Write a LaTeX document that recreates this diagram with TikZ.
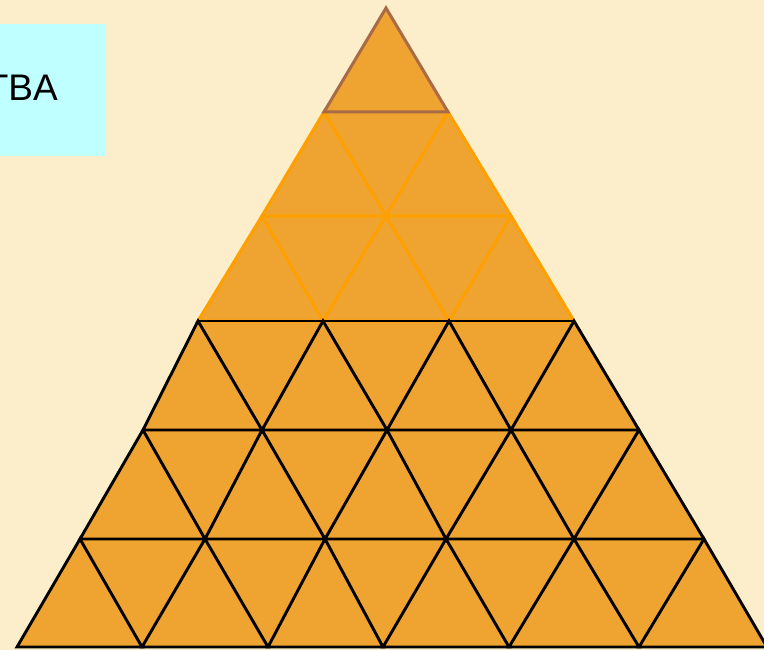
\documentclass[tikz,border=0pt]{standalone}
\usepackage{fontspec}
\setmainfont{Liberation Sans}
\definecolor{bgc}{HTML}{FCEECB}
\definecolor{cyanbox}{HTML}{BFFFFF}
\definecolor{tri}{HTML}{EFA330}
\definecolor{brownln}{HTML}{A86B46}
\definecolor{orangeln}{HTML}{FFA000}
\tikzset{
  triblack/.style={draw=black,line width=2.9pt,line join=miter},
  triorange/.style={draw=orangeln,line width=3.1pt,line join=miter},
  tribrown/.style={draw=brownln,line width=3pt,line join=miter},
}
\begin{document}
\begin{tikzpicture}[x=1pt,y=-1pt]
\useasboundingbox (0,0) rectangle (764,650);
\fill[bgc] (0,0) rectangle (764,650);
\fill[cyanbox] (0,24) rectangle (105,156);
\node[anchor=east,font=\fontsize{37}{40}\selectfont,inner sep=0pt] (tba) at (58,88) {TBA};
% row vertices
\def\ya{8}\def\yb{112}\def\yc{216}\def\yd{321}\def\ye{430}\def\yf{539}\def\yg{647}
\coordinate (A0) at (386,\ya);
\coordinate (B0) at (324,\yb); \coordinate (B1) at (448,\yb);
\coordinate (C0) at (262,\yc); \coordinate (C1) at (386,\yc); \coordinate (C2) at (511,\yc);
\coordinate (D0) at (198,\yd); \coordinate (D1) at (323,\yd); \coordinate (D2) at (449,\yd); \coordinate (D3) at (574,\yd);
\coordinate (E0) at (143,\ye); \coordinate (E1) at (262,\ye); \coordinate (E2) at (387,\ye); \coordinate (E3) at (511,\ye); \coordinate (E4) at (639,\ye);
\coordinate (F0) at (80,\yf); \coordinate (F1) at (205,\yf); \coordinate (F2) at (325,\yf); \coordinate (F3) at (446,\yf); \coordinate (F4) at (574,\yf); \coordinate (F5) at (704,\yf);
\coordinate (G0) at (17,\yg); \coordinate (G1) at (142,\yg); \coordinate (G2) at (268,\yg); \coordinate (G3) at (383,\yg); \coordinate (G4) at (509,\yg); \coordinate (G5) at (639,\yg); \coordinate (G6) at (767,\yg);
% fill
\fill[tri] (A0) -- (B0) -- (C0) -- (D0) -- (E0) -- (F0) -- (G0) -- (G6) -- (F5) -- (E4) -- (D3) -- (C2) -- (B1) -- cycle;
% orange rows 2-3
\draw[triorange] (B0) -- (C0) -- (C1) -- cycle;
\draw[triorange] (B1) -- (C1) -- (C2) -- cycle;
\draw[triorange] (C0) -- (D0) -- (D1) -- cycle;
\draw[triorange] (C1) -- (D1) -- (D2) -- cycle;
\draw[triorange] (C2) -- (D2) -- (D3) -- cycle;
% brown top
\draw[tribrown] (A0) -- (B0) -- (B1) -- cycle;
% black rows 4-6
\draw[triblack] (D0) -- (E0) -- (E1) -- cycle;
\draw[triblack] (D1) -- (E1) -- (E2) -- cycle;
\draw[triblack] (D2) -- (E2) -- (E3) -- cycle;
\draw[triblack] (D3) -- (E3) -- (E4) -- cycle;
\draw[triblack] (D0) -- (D3);
\draw[triblack] (E0) -- (F0) -- (F1) -- cycle;
\draw[triblack] (E1) -- (F1) -- (F2) -- cycle;
\draw[triblack] (E2) -- (F2) -- (F3) -- cycle;
\draw[triblack] (E3) -- (F3) -- (F4) -- cycle;
\draw[triblack] (E4) -- (F4) -- (F5) -- cycle;
\draw[triblack] (F0) -- (G0) -- (G1) -- cycle;
\draw[triblack] (F1) -- (G1) -- (G2) -- cycle;
\draw[triblack] (F2) -- (G2) -- (G3) -- cycle;
\draw[triblack] (F3) -- (G3) -- (G4) -- cycle;
\draw[triblack] (F4) -- (G4) -- (G5) -- cycle;
\draw[triblack] (F5) -- (G5) -- (G6) -- cycle;
\end{tikzpicture}
\end{document}
